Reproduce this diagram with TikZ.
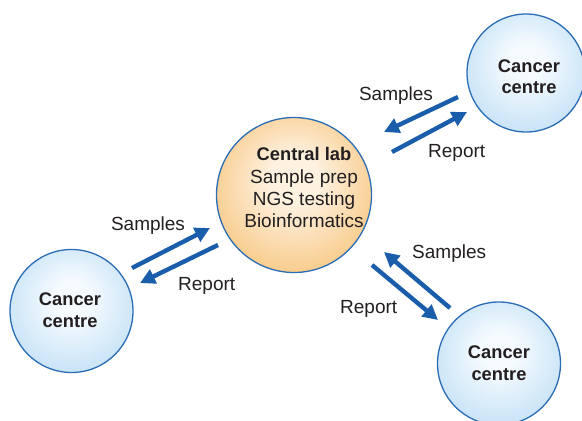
\documentclass[tikz,border=0pt]{standalone}
\usepackage{fontspec}
\setmainfont{Liberation Sans}
\usetikzlibrary{arrows.meta}
\definecolor{oC}{HTML}{FDF1E0}
\definecolor{oE}{HTML}{F4AA40}
\definecolor{bC}{HTML}{F4FAFE}
\definecolor{bE}{HTML}{A0CFF0}
\definecolor{rimblue}{HTML}{2B6DB5}
\definecolor{arrblue}{HTML}{1A5DAA}
\definecolor{txt}{HTML}{231F20}
\pgfdeclareradialshading{ballO}{\pgfpoint{0bp}{6bp}}{color(0bp)=(oC); color(8bp)=(oC); color(46bp)=(oE); color(50bp)=(oE)}
\pgfdeclareradialshading{ballB}{\pgfpoint{0bp}{6bp}}{color(0bp)=(bC); color(8bp)=(bC); color(46bp)=(bE); color(50bp)=(bE)}
\tikzset{
  lab/.style={circle, draw=rimblue, line width=1.3pt, shading=ballO, minimum size=155pt, inner sep=0pt},
  centre/.style={circle, draw=rimblue, line width=1.3pt, shading=ballB, inner sep=0pt},
  regtext/.style={font=\fontsize{19}{23}\selectfont, text=txt, inner sep=0pt},
  boldtext/.style={font=\fontsize{18.3}{22}\selectfont\bfseries, text=txt, inner sep=0pt},
  flow/.style={draw=arrblue, line width=4.4pt, -{Triangle[length=15pt,width=15pt]}}
}
\begin{document}
\begin{tikzpicture}[x=1pt,y=-1pt]
\useasboundingbox (0,0) rectangle (582,421);
% circles
\node[lab] (lab) at (294,195) {};
\node[centre, minimum size=118pt] (ctr) at (526,73) {};
\node[centre, minimum size=123pt] (cbl) at (71.5,311) {};
\node[centre, minimum size=123pt] (cbr) at (499,363.5) {};
% circle texts
\node[boldtext, anchor=base] (lab1) at (304,160) {Central lab};
\node[regtext, anchor=base] (lab2) at (304,183) {Sample prep};
\node[regtext, anchor=base] (lab3) at (304,205) {NGS testing};
\node[regtext, anchor=base] (lab4) at (304,227) {Bioinformatics};
\node[boldtext, anchor=base] (tr1) at (529,72) {Cancer};
\node[boldtext, anchor=base] (tr2) at (529,93) {centre};
\node[boldtext, anchor=base] (bl1) at (70,305) {Cancer};
\node[boldtext, anchor=base] (bl2) at (70,327) {centre};
\node[boldtext, anchor=base] (br1) at (499,358) {Cancer};
\node[boldtext, anchor=base] (br2) at (499,380) {centre};
% arrow end points
\coordinate (trSa) at (458,97);
\coordinate (trSb) at (384,132);
\coordinate (trRa) at (392,152);
\coordinate (trRb) at (467,112);
\coordinate (blSa) at (132,268);
\coordinate (blSb) at (210,228);
\coordinate (blRa) at (218,245);
\coordinate (blRb) at (140,283);
\coordinate (brSa) at (450,308);
\coordinate (brSb) at (384,252);
\coordinate (brRa) at (372,265);
\coordinate (brRb) at (438,320);
\draw[flow] (trSa) -- (trSb);
\draw[flow] (trRa) -- (trRb);
\draw[flow] (blSa) -- (blSb);
\draw[flow] (blRa) -- (blRb);
\draw[flow] (brSa) -- (brSb);
\draw[flow] (brRa) -- (brRb);
% labels
\node[regtext, anchor=base] (trS) at (396,100) {Samples};
\node[regtext, anchor=base west] (trR) at (428,157) {Report};
\node[regtext, anchor=base] (blS) at (148,230) {Samples};
\node[regtext, anchor=base west] (blR) at (178,290) {Report};
\node[regtext, anchor=base west] (brS) at (412,258) {Samples};
\node[regtext, anchor=base west] (brR) at (340,313) {Report};
\end{tikzpicture}
\end{document}
